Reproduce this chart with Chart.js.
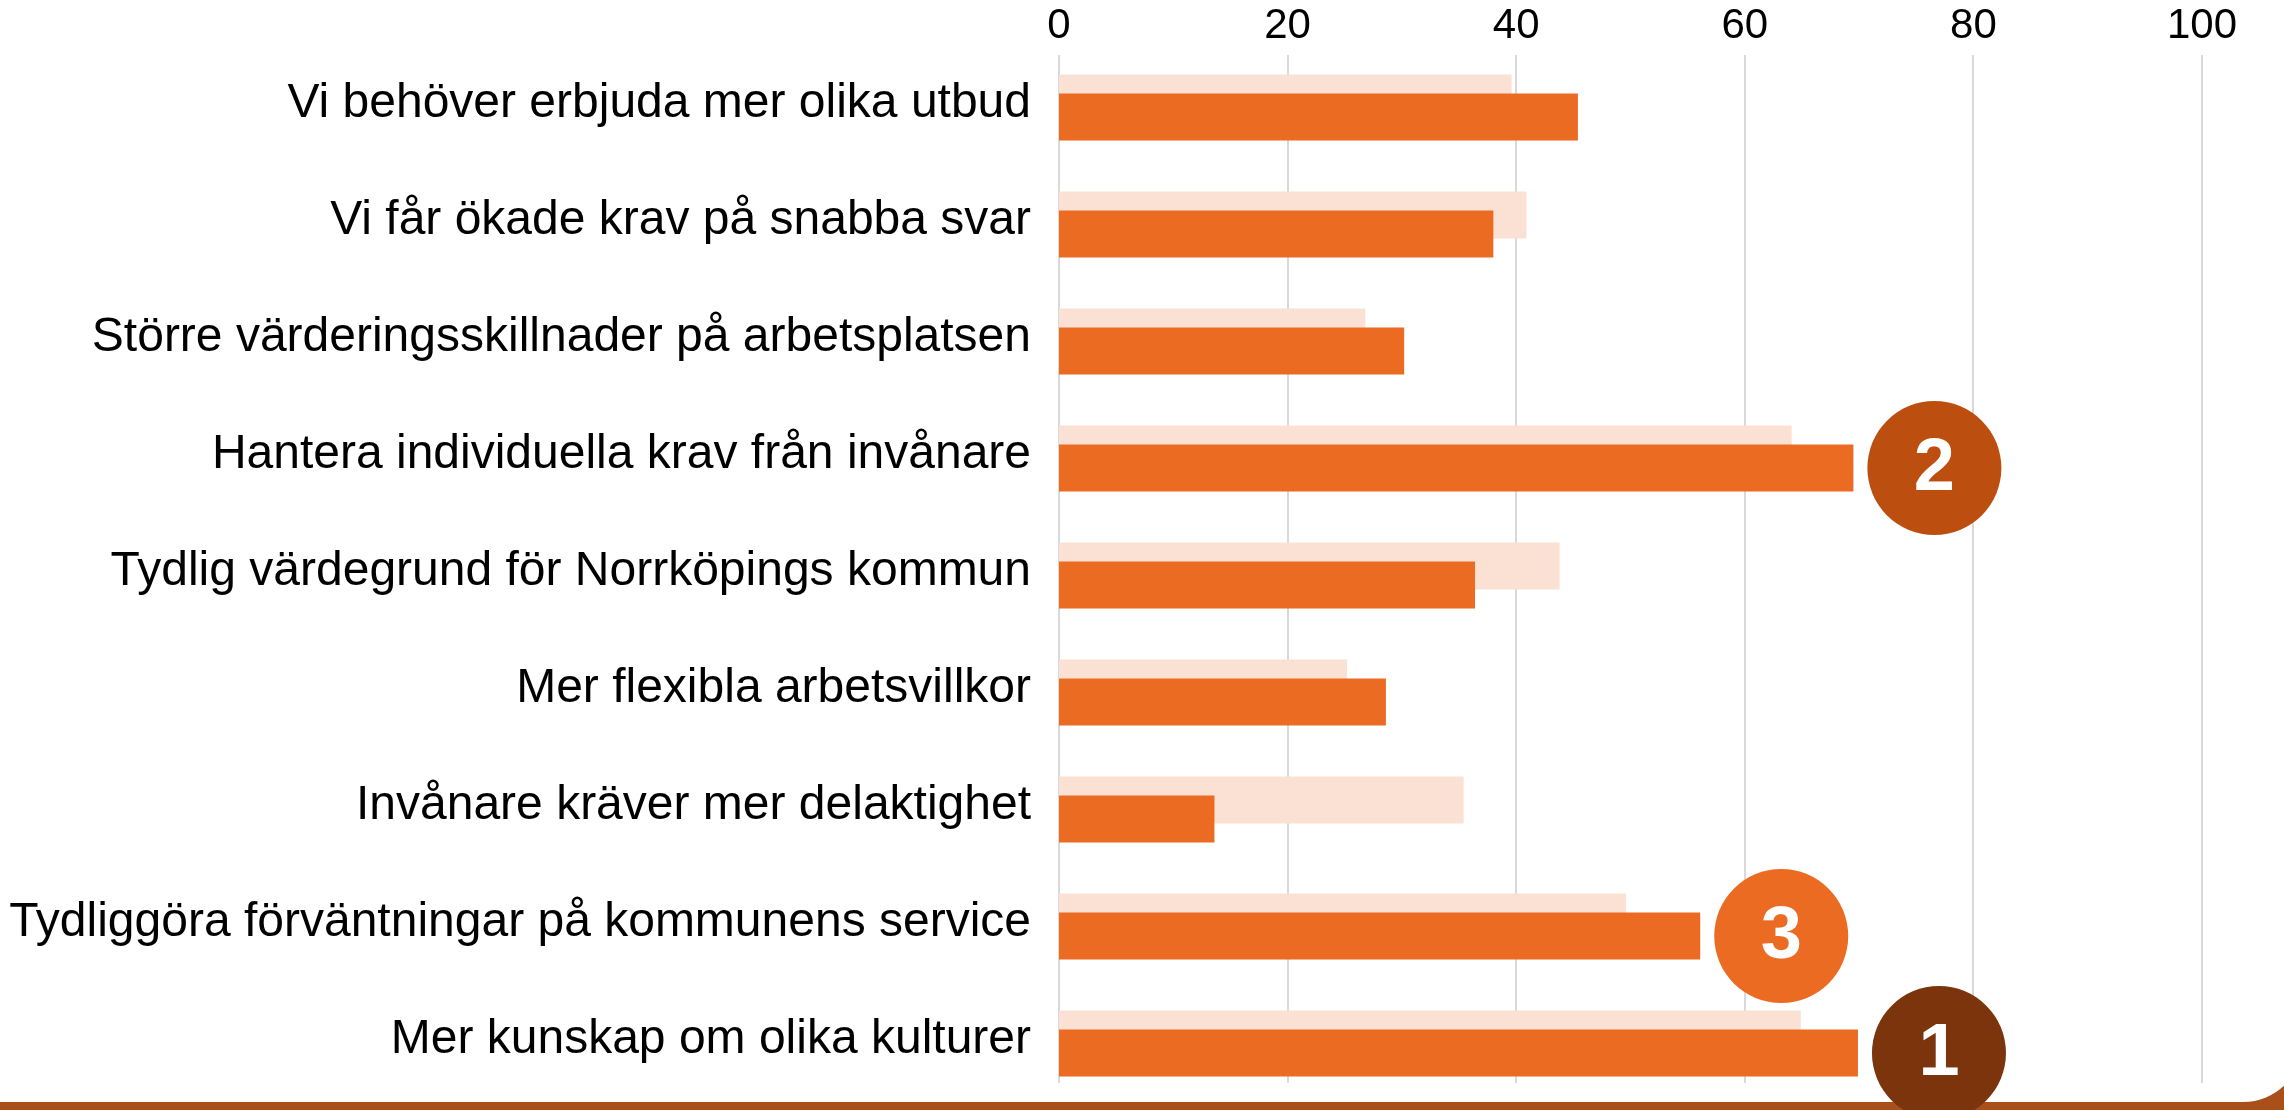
<!DOCTYPE html>
<html>
<head>
<meta charset="utf-8">
<script src="https://cdn.jsdelivr.net/npm/chart.js@4/dist/chart.umd.min.js"></script>
<style>
  html, body { margin: 0; padding: 0; }
  body { width: 2284px; height: 1110px; overflow: hidden; position: relative; background: #a84f1a; }
  #sheet { position: absolute; left: 0; top: 0; width: 2303px; height: 1102px; background: #fff; border-bottom-right-radius: 60px; }
  #myChart { position: absolute; left: 0; top: 0; }
</style>
</head>
<body>
<div id="sheet"></div>
<canvas id="myChart" width="2284" height="1110"></canvas>
<script>
const categories = [
  "Vi behöver erbjuda mer olika utbud",
  "Vi får ökade krav på snabba svar",
  "Större värderingsskillnader på arbetsplatsen",
  "Hantera individuella krav från invånare",
  "Tydlig värdegrund för Norrköpings kommun",
  "Mer flexibla arbetsvillkor",
  "Invånare kräver mer delaktighet",
  "Tydliggöra förväntningar på kommunens service",
  "Mer kunskap om olika kulturer"
];
const earlier = [39.6, 40.9, 26.8, 64.1, 43.8, 25.2, 35.4, 49.6, 64.9]; // light bars
const current = [45.4, 38.0, 30.2, 69.5, 36.4, 28.6, 13.6, 56.1, 69.9]; // dark bars
const ranks = [null, null, null, 2, null, null, null, 3, 1]; // numbered circles
const xTicks = [0, 20, 40, 60, 80, 100];

const rankColors = { 1: "#7b340c", 2: "#bc4f10", 3: "#ec6b23" };

// vertical grid lines, a bit shorter than the plot area like in the original
const gridLines = {
  id: 'gridLines',
  beforeDatasetsDraw(chart) {
    const { ctx, chartArea, scales } = chart;
    ctx.save();
    ctx.strokeStyle = '#d9d9d9';
    ctx.lineWidth = 2;
    xTicks.forEach(v => {
      const x = Math.round(scales.x.getPixelForValue(v));
      ctx.beginPath();
      ctx.moveTo(x, chartArea.top + 6);
      ctx.lineTo(x, chartArea.bottom - 19);
      ctx.stroke();
    });
    ctx.restore();
  }
};

// dark bars must sit on top of the light ones, and the circles go last
const layering = {
  id: 'layering',
  beforeDatasetDraw(chart, args) {
    if (args.index === 1) return false;
  },
  afterDatasetsDraw(chart) {
    const meta = chart.getDatasetMeta(1);
    meta.controller.draw();
    const ctx = chart.ctx;
    ctx.save();
    ranks.forEach((r, i) => {
      if (!r) return;
      const bar = meta.data[i];
      const cx = bar.x + 81;
      const cy = bar.y;
      ctx.beginPath();
      ctx.arc(cx, cy, 67, 0, Math.PI * 2);
      ctx.fillStyle = rankColors[r];
      ctx.fill();
      ctx.fillStyle = "#fff";
      ctx.font = "bold 74px 'Liberation Sans', Arial, sans-serif";
      ctx.textAlign = "center";
      ctx.textBaseline = "middle";
      ctx.fillText(String(r), cx, cy + 2);
    });
    ctx.restore();
  }
};

const ctx = document.getElementById('myChart');
new Chart(ctx, {
  type: 'bar',
  data: {
    labels: categories,
    datasets: [{
      data: earlier,
      backgroundColor: '#fae1d4',
      categoryPercentage: 0.325,
      barPercentage: 2.47
    }, {
      data: current,
      backgroundColor: '#ec6b23',
      categoryPercentage: 0.325,
      barPercentage: 2.47
    }]
  },
  plugins: [gridLines, layering],
  options: {
    indexAxis: 'y',
    responsive: false,
    animation: false,
    layout: { padding: { left: 0, right: 82, top: 0, bottom: 8 } },
    plugins: { legend: { display: false }, tooltip: { enabled: false } },
    scales: {
      x: {
        position: 'top',
        min: 0,
        max: 100,
        afterBuildTicks: (scale) => { scale.ticks = xTicks.map(v => ({ value: v })); },
        afterFit: (scale) => { scale.height = 49; scale.paddingLeft = 0; scale.paddingRight = 0; },
        grid: { display: false, drawTicks: false },
        border: { display: false },
        ticks: {
          color: '#000',
          padding: -3,
          font: { family: "'Liberation Sans', Arial, sans-serif", size: 42 }
        }
      },
      y: {
        afterFit: (scale) => { scale.width = 1059; scale.paddingTop = 0; scale.paddingBottom = 0; },
        grid: { display: false, drawTicks: false },
        border: { display: false },
        ticks: {
          color: '#000',
          padding: 28,
          labelOffset: -4,
          font: { family: "'Liberation Sans', Arial, sans-serif", size: 48 }
        }
      }
    }
  }
});
</script>
</body>
</html>
